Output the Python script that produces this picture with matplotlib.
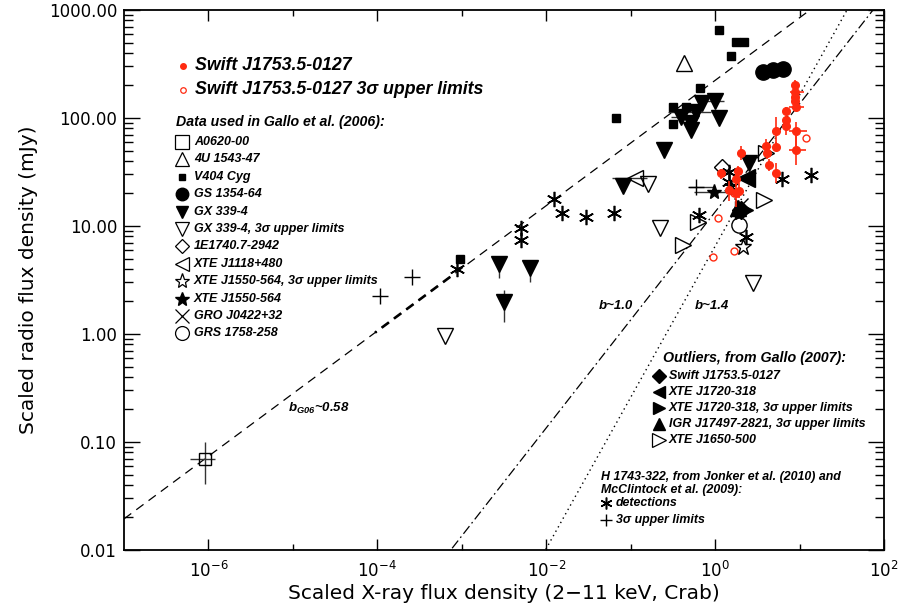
import numpy as np
import matplotlib
matplotlib.use('Agg')
import matplotlib.pyplot as plt
from matplotlib.ticker import LogLocator, FuncFormatter, NullFormatter, FixedLocator

plt.rcParams['lines.scale_dashes'] = False

# ---------------- data ----------------
a0620_x = [9.0e-7]; a0620_y = [0.070]
a0620_ylo = [0.041]; a0620_yhi = [0.099]; a0620_xlo = [6.1e-7]; a0620_xhi = [1.2e-6]

u1543_x = [0.43]; u1543_y = [321]

v404_x = [1.12, 1.77, 2.21, 1.54, 0.667, 0.318, 0.448, 0.318, 0.067, 9.5e-4]
v404_y = [653, 502, 502, 375, 188, 126, 126, 87.5, 99, 5.0]

gs1354_x = [3.70, 4.85, 6.37]
gs1354_y = [268, 278, 282]

gx_x = [0.703, 1.008, 0.597, 0.398, 0.512, 0.512, 1.12, 0.249, 0.082, 2.53, 2.78e-3, 6.43e-3, 3.18e-3]
gx_y = [139, 144.5, 114, 103, 89, 77.4, 99, 50.6, 23.4, 38.1, 4.45, 4.05, 1.99]
gx_vx = [2.78e-3, 6.43e-3, 3.18e-3]; gx_vy = [4.45, 4.05, 1.99]
gx_vlo = [3.28, 3.05, 1.30]; gx_vhi = [5.2, 4.67, 2.54]
gx_hx = [1.008, 0.597, 0.398]; gx_hy = [144.5, 114, 103]
gx_hlo = [0.78, 0.277, 0.303]; gx_hhi = [1.28, 0.897, 0.522]

gxul_x = [0.161, 6.37e-4, 0.221, 2.82]
gxul_y = [24.3, 0.964, 9.5, 2.94]

e1740_x = [1.21]; e1740_y = [35]

j1118_x = [0.112]; j1118_y = [28]; j1118_xlo = [0.0597]; j1118_xhi = [0.154]

j1550ul_x = [2.15]; j1550ul_y = [6.35]
j1550_x = [0.98]; j1550_y = [20.8]; j1550_xlo = [0.558]; j1550_xhi = [1.56]

gro_x = [2.02]; gro_y = [15.6]
grs_x = [1.90]; grs_y = [10.2]

h1743_x = [8.8e-4, 0.0123, 0.0154, 0.0298, 0.0637, 5.08e-3, 5.08e-3, 0.643, 6.25, 13.5, 1.47, 1.47, 1.54, 2.32]
h1743_y = [3.97, 17.7, 13.1, 12.0, 13.1, 9.5, 7.4, 12.6, 27, 29.7, 31.8, 25.7, 23.1, 7.96]
h1743ul_x = [2.6e-4, 1.09e-4, 0.597]; h1743ul_y = [3.4, 2.25, 23.1]
h1743ul_xlo = [2.6e-4, 1.09e-4, 0.494]; h1743ul_xhi = [2.6e-4, 1.09e-4, 0.946]

swout_x = [2.02]; swout_y = [14.1]
j1720_x = [2.32]; j1720_y = [27.7]
j1720ul_x = [2.21]; j1720ul_y = [14.1]
igr_x = [1.87]; igr_y = [14.7]
j1650_x = [3.98, 3.8, 0.625, 0.417]; j1650_y = [47, 17.4, 11.0, 6.67]

sw_x = [8.8, 8.8, 8.8, 8.8, 9.1, 7.0, 7.0, 7.0, 5.2, 9.0, 5.2, 4.0, 4.1, 4.35, 5.2, 9.0, 2.0, 1.18, 1.85, 1.77, 1.77, 1.47, 1.93]
sw_y = [202, 175, 156, 145, 126, 117, 96, 84, 76, 76, 54, 55, 47, 37, 31, 51, 47, 31, 32, 27, 20, 21.5, 21]
sw_ylo = [182, 160, 145, 135, 115, 108, 88, 70, 56, 52, 49, 47, 42, 32, 25, 37, 41, 27, 29, 24, 15, 17, 18]
sw_yhi = [225, 190, 168, 156, 138, 127, 105, 100, 103, 92, 60, 64, 53, 42, 38, 83, 55, 34, 36, 31, 26, 26, 25]
sw_xlo = [8.8, 7.8, 8.8, 8.8, 7.6, 7.0, 7.0, 7.0, 5.2, 7.5, 5.2, 4.0, 4.1, 4.35, 5.2, 7.5, 2.0, 1.18, 1.85, 1.77, 1.77, 1.47, 1.93]
sw_xhi = [8.8, 11.2, 8.8, 8.8, 11.2, 7.0, 7.0, 7.0, 5.2, 12.3, 5.2, 4.0, 4.1, 4.35, 5.2, 12.0, 2.0, 1.18, 1.85, 1.77, 1.77, 1.47, 1.93]

swul_x = [1.08, 0.94, 1.66, 11.8, 1.68]
swul_y = [11.8, 5.2, 5.87, 64.9, 20.1]

# fits
norm_g06, slope_g06 = 223.0, 0.58
norm_b10, slope_b10 = 13.5, 1.0
norm_b14, slope_b14 = 6.5, 1.4
thick_lo, thick_hi = 9.4e-5, 8.2e-4

x_ticks = [1e-6, 1e-4, 1e-2, 1e0, 1e2]
x_tick_labels = ['10$^{-6}$', '10$^{-4}$', '10$^{-2}$', '10$^{0}$', '10$^{2}$']
y_ticks = [0.01, 0.1, 1, 10, 100, 1000]

# ---------------- figure ----------------
fig = plt.figure(figsize=(8.98, 6.05), dpi=100)
ax = fig.add_axes([124/898, 55/605, 760/898, 540/605])
ax.set_xscale('log'); ax.set_yscale('log')
ax.set_xlim(1e-7, 1e2); ax.set_ylim(0.01, 1000)

LBL = ['Liberation Sans Narrow', 'Liberation Sans', 'DejaVu Sans']

# lines
DASH = (6.5, 4.5)
xl = np.logspace(-7, 2, 400)
ax.plot(xl, norm_g06 * xl**slope_g06, color='k', lw=0.9, dashes=DASH)
# thicker overplotted segment, dash phase matched to the thin line
p0 = ax.transData.transform((xl[0], norm_g06 * xl[0]**slope_g06))
p1 = ax.transData.transform((thick_lo, norm_g06 * thick_lo**slope_g06))
seg_len_pt = np.hypot(*(p1 - p0)) * 72.0 / fig.dpi
xs = np.logspace(np.log10(thick_lo), np.log10(thick_hi), 20)
ax.plot(xs, norm_g06 * xs**slope_g06, color='k', lw=1.9,
        linestyle=(seg_len_pt % sum(DASH), DASH))
ax.plot(xl, norm_b10 * xl**slope_b10, color='k', lw=0.9, dashes=(7, 2.5, 1.2, 2.5))
ax.plot(xl, norm_b14 * xl**slope_b14, color='k', lw=1.0, dashes=(1, 2.6))

ebk = dict(ecolor='#333333', elinewidth=1.0, capsize=0, ls='none', marker='none')

# A0620
ax.errorbar(a0620_x, a0620_y,
            yerr=[np.subtract(a0620_y, a0620_ylo), np.subtract(a0620_yhi, a0620_y)],
            xerr=[np.subtract(a0620_x, a0620_xlo), np.subtract(a0620_xhi, a0620_x)], **ebk)
ax.plot(a0620_x, a0620_y, 's', ms=9, mfc='none', mec='k', mew=1.0)
# GX errors
ax.errorbar(gx_vx, gx_vy, yerr=[np.subtract(gx_vy, gx_vlo), np.subtract(gx_vhi, gx_vy)], **ebk)
ax.errorbar(gx_hx, gx_hy, xerr=[np.subtract(gx_hx, gx_hlo), np.subtract(gx_hhi, gx_hx)], **ebk)
ax.errorbar(j1118_x, j1118_y, xerr=[np.subtract(j1118_x, j1118_xlo), np.subtract(j1118_xhi, j1118_x)], **ebk)
ax.errorbar(j1550_x, j1550_y, xerr=[np.subtract(j1550_x, j1550_xlo), np.subtract(j1550_xhi, j1550_x)], **ebk)
ax.errorbar(h1743ul_x, h1743ul_y, xerr=[np.subtract(h1743ul_x, h1743ul_xlo), np.subtract(h1743ul_xhi, h1743ul_x)], **ebk)

ast = (6, 2, 0)
ax.plot(u1543_x, u1543_y, '^', ms=11, mfc='none', mec='k', mew=1.0)
ax.plot(v404_x, v404_y, 's', ms=6, color='k')
ax.plot(gs1354_x, gs1354_y, 'o', ms=11, color='k')
ax.plot(gx_x, gx_y, 'v', ms=11, color='k')
ax.plot(gxul_x, gxul_y, 'v', ms=11, mfc='none', mec='k', mew=1.0)
ax.plot(e1740_x, e1740_y, 'D', ms=8, mfc='none', mec='k', mew=1.0)
ax.plot(j1118_x, j1118_y, '<', ms=11, mfc='none', mec='k', mew=1.0)
ax.plot(j1550ul_x, j1550ul_y, '*', ms=12, mfc='none', mec='k', mew=1.0)
ax.plot(j1550_x, j1550_y, '*', ms=11, color='k')
ax.plot(gro_x, gro_y, 'x', ms=10, color='k', mew=1.0)
ax.plot(grs_x, grs_y, 'o', ms=11, mfc='none', mec='k', mew=1.0)
ax.plot(h1743_x, h1743_y, ls='none', marker=ast, ms=11, color='k', mew=1.2)
ax.plot(h1743ul_x, h1743ul_y, '+', ms=11, color='k', mew=1.0)
ax.plot(swout_x, swout_y, 'D', ms=9, color='k')
ax.plot(j1720_x, j1720_y, '<', ms=13, color='k')
ax.plot(j1720ul_x, j1720ul_y, '>', ms=13, color='k')
ax.plot(igr_x, igr_y, '^', ms=12, color='k')
ax.plot(j1650_x, j1650_y, '>', ms=11, mfc='none', mec='k', mew=1.0)

# Swift J1753.5-0127
red = '#ff2a10'
ax.errorbar(sw_x, sw_y,
            yerr=[np.subtract(sw_y, sw_ylo), np.subtract(sw_yhi, sw_y)],
            xerr=[np.subtract(sw_x, sw_xlo), np.subtract(sw_xhi, sw_x)],
            fmt='o', ms=5.5, color=red, ecolor=red, elinewidth=1.2, capsize=0)
ax.plot(sw_x, sw_y, 'o', ms=1.4, color='#330000')
ax.plot(swul_x, swul_y, 'o', ms=5, mfc='none', mec=red, mew=1.0)

# ---------------- axes styling ----------------
for s in ax.spines.values():
    s.set_linewidth(1.3)
ax.xaxis.set_major_locator(FixedLocator(x_ticks))
ax.xaxis.set_major_formatter(FuncFormatter(lambda v, p: x_tick_labels[x_ticks.index(v)] if v in x_ticks else ''))
ax.xaxis.set_minor_locator(FixedLocator([1e-5, 1e-3, 1e-1, 1e1]))
ax.xaxis.set_minor_formatter(NullFormatter())
ax.yaxis.set_major_locator(FixedLocator(y_ticks))
ax.yaxis.set_major_formatter(FuncFormatter(lambda v, p: '%.2f' % v))
ax.yaxis.set_minor_locator(LogLocator(base=10, subs=np.arange(2, 10), numticks=20))
ax.yaxis.set_minor_formatter(NullFormatter())
ax.tick_params(axis='both', which='both', direction='in', top=True, right=True, width=1.0, colors='k')
ax.tick_params(axis='x', which='major', length=8, pad=8, labelsize=12)
ax.tick_params(axis='x', which='minor', length=4)
ax.tick_params(axis='y', which='major', length=11.5, pad=5, labelsize=12)
ax.tick_params(axis='y', which='minor', length=6.5)
ax.set_xlabel('Scaled X-ray flux density (2\u221211 keV, Crab)', fontsize=14.5, labelpad=2)
ax.set_ylabel('Scaled radio flux density (mJy)', fontsize=14.5, labelpad=8)

# ---------------- annotations / legends ----------------
T = ax.transAxes
def ftxt(x, y, s, size=9.5):
    ax.text(x, y, s, transform=T, fontsize=size, fontweight='bold', fontstyle='italic',
            family=LBL, va='center', ha='left')

def fsym(x, y, **kw):
    ax.plot([x], [y], transform=T, clip_on=False, ls='none', **kw)

fsym(0.0776, 0.8963, marker='o', ms=4, color=red)
ftxt(0.0934, 0.8963, 'Swift J1753.5-0127', 12.8)
fsym(0.0776, 0.8519, marker='o', ms=4, mfc='none', mec=red, mew=0.9)
ftxt(0.0934, 0.8519, 'Swift J1753.5-0127 3\u03c3 upper limits', 12.8)

ftxt(0.0684, 0.7926, 'Data used in Gallo et al. (2006):', 10.2)
leg2 = [
    ('A0620-00', dict(marker='s', ms=10, mfc='none', mec='k', mew=0.9)),
    ('4U 1543-47', dict(marker='^', ms=10, mfc='none', mec='k', mew=0.9)),
    ('V404 Cyg', dict(marker='s', ms=5, color='k')),
    ('GS 1354-64', dict(marker='o', ms=9, color='k')),
    ('GX 339-4', dict(marker='v', ms=9, color='k')),
    ('GX 339-4, 3\u03c3 upper limits', dict(marker='v', ms=10, mfc='none', mec='k', mew=0.9)),
    ('1E1740.7-2942', dict(marker='D', ms=7, mfc='none', mec='k', mew=0.9)),
    ('XTE J1118+480', dict(marker='<', ms=10, mfc='none', mec='k', mew=0.9)),
    ('XTE J1550-564, 3\u03c3 upper limits', dict(marker='*', ms=11, mfc='none', mec='k', mew=0.9)),
    ('XTE J1550-564', dict(marker='*', ms=10, color='k')),
    ('GRO J0422+32', dict(marker='x', ms=10, color='k', mew=0.9)),
    ('GRS 1758-258', dict(marker='o', ms=10, mfc='none', mec='k', mew=0.9)),
]
for i, (lab, kw) in enumerate(leg2):
    yy = 0.7556 - 0.03222 * i
    fsym(0.0763, yy, **kw)
    ftxt(0.0921, yy, lab, 9.0)

ftxt(0.7092, 0.3556, 'Outliers, from Gallo (2007):', 10.3)
leg3 = [
    ('Swift J1753.5-0127', dict(marker='D', ms=7, color='k')),
    ('XTE J1720-318', dict(marker='<', ms=9, color='k')),
    ('XTE J1720-318, 3\u03c3 upper limits', dict(marker='>', ms=9, color='k')),
    ('IGR J17497-2821, 3\u03c3 upper limits', dict(marker='^', ms=9, color='k')),
    ('XTE J1650-500', dict(marker='>', ms=10, mfc='none', mec='k', mew=0.9)),
]
for i, (lab, kw) in enumerate(leg3):
    yy = 0.3213 - 0.02926 * i
    fsym(0.7039, yy, **kw)
    ftxt(0.7171, yy, lab, 9.0)

ftxt(0.6276, 0.1357, 'H 1743-322, from Jonker et al. (2010) and', 8.9)
ftxt(0.6276, 0.1111, 'McClintock et al. (2009):', 8.9)
fsym(0.6340, 0.0865, marker=ast, ms=8.5, color='k', mew=1.1)
ftxt(0.6470, 0.0865, 'detections', 8.9)
fsym(0.6340, 0.0556, marker='+', ms=9, color='k', mew=1.0)
ftxt(0.6470, 0.0556, '3\u03c3 upper limits', 8.9)

ftxt(0.625, 0.4519, 'b~1.0', 9.5)
ftxt(0.7513, 0.4519, 'b~1.4', 9.5)
ftxt(0.2158, 0.263, 'b$_{\\mathregular{G06}}$~0.58', 9.5)

fig.savefig('out.png', dpi=100)
